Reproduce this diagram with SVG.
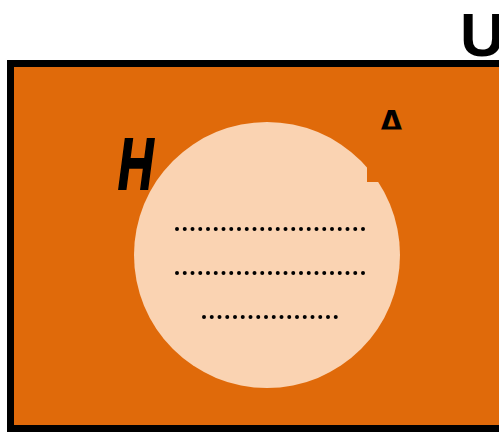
<svg xmlns="http://www.w3.org/2000/svg" width="499" height="432" viewBox="0 0 499 432">
<style>
.dots{stroke:#000;stroke-width:4;stroke-linecap:round;stroke-dasharray:0 7.75;fill:none}
.lbl{font-family:"Liberation Sans",Arial,sans-serif;font-weight:bold;fill:#000}
</style>
<rect width="499" height="432" fill="#fff"/>
<g id="universe">
<rect x="10.5" y="63.5" width="600" height="365" fill="#E06A0A" stroke="#000" stroke-width="7"/>
<text class="lbl" x="460" y="56" font-size="62">U</text>
</g>
<g id="setH">
<circle cx="267" cy="255" r="133" fill="#FAD3B2"/>
<text class="lbl" font-style="italic" font-size="72" stroke="#000" stroke-width="2" transform="translate(118,189) scale(0.68,1)">H</text>
<path class="dots" d="M177 229H364M177 273H364M204 317H338"/>
</g>
<g id="patch">
<text class="lbl" x="377" y="137.5" font-size="40">A</text>
<rect x="367" y="129.5" width="40" height="52.5" fill="#E06A0A"/>
</g>
</svg>
